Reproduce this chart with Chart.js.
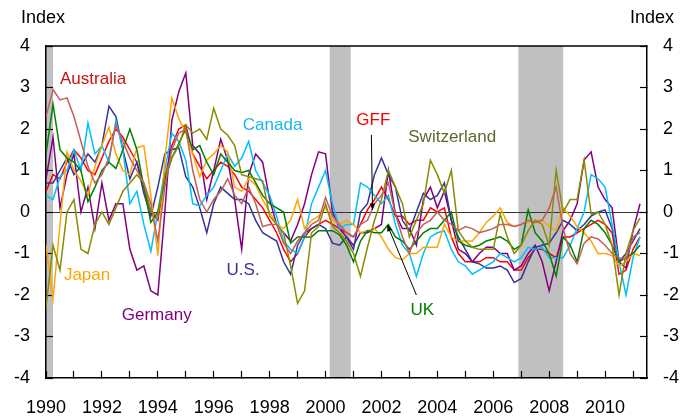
<!DOCTYPE html>
<html>
<head>
<meta charset="utf-8">
<script src="https://cdn.jsdelivr.net/npm/chart.js@4.4.1/dist/chart.umd.min.js"></script>
<style>
  body { margin: 0; background: #fff; }
  #wrap { width: 692px; height: 416px; }
</style>
</head>
<body>
<div id="wrap"><canvas id="chart"></canvas></div>
<script>
// quarterly readings, 1990 Q1 .. 2011 Q2
const quarters = Array.from({ length: 86 }, (_, i) => 1990 + i / 4);

const australia = [
  2.3, 2.95, 2.7, 2.75,  2.3, 1.7, 1.1, 0.7,  0.9, 1.3, 2.1, 1.7,  1.3, 1.0, 0.7, 0.2,
  -0.7, 0.6, 1.5, 1.9,  2.0, 1.0, 0.3, 0.0,  0.3, 0.5, 0.8, 0.4,  0.2, 0.6, 0.2, -0.35,
  -0.3, -0.3, -0.75, -1.0,  -0.7, -0.5, -0.3, -0.2,  0.35, -0.1, -0.3, -0.5,  -0.6, -0.3, -0.2, 0.2,
  0.4, 0.7, -0.05, -0.6,  -1.0, -0.5, -0.3, -0.2,  0.0, -0.2, -0.3, -0.45,  -0.35, -0.4, -0.5, -0.45,
  -0.4, -0.3, -0.3, -0.35,  -0.3, -0.2, -0.25, -0.2,  0.1, 0.6, -0.4, -1.0,  -1.25, -0.75, -0.6, -0.65,
  -0.8, -1.0, -1.1, -1.15,  -0.6, -0.5
];
const canada = [
  0.4, 0.3, 0.85, 1.0,  1.5, 1.0, 2.15, 1.4,  1.6, 1.2, 2.2, 1.5,  0.2, 0.5, -0.3, -0.95,
  0.0, 1.0, 1.9, 1.7,  1.25, 0.2, 0.15, 0.4,  0.6, 1.0, 1.4, 1.1,  1.3, 1.7, 1.0, 0.7,
  0.4, -0.1, -0.7, -0.9,  -1.0, -0.6, 0.2, 0.6,  1.0, 0.2, -0.4, -0.3,  -0.3, 0.7, 0.6, 0.4,
  0.2, 0.4, -0.3, -0.8,  -1.0, -1.55, -1.0, -0.6,  -0.5, -0.45, -0.9, -1.2,  -1.3, -1.5, -1.4, -1.3,
  -1.2, -1.0, -1.1, -1.2,  -1.1, -0.85, -0.9, -0.85,  -1.1, -1.1, -1.1, -0.8,  -0.4, 0.0, 0.9, 0.8,
  0.6, -0.3, -1.2, -2.0,  -1.1, -0.6
];
const gff = [
  0.5, 0.9, 0.8, 1.2,  1.5, 1.3, 1.0, 0.9,  1.3, 1.7, 2.0, 1.8,  1.5, 1.2, 0.6, 0.0,
  -0.2, 0.8, 1.6, 2.0,  2.1, 1.4, 1.1, 0.8,  1.0, 1.2, 1.1, 0.9,  0.6, 0.5, 0.3, 0.1,
  -0.2, -0.5, -0.9, -1.2,  -1.0, -0.6, -0.4, -0.3,  -0.2, -0.3, -0.4, -0.5,  -0.6, -0.3, 0.05, 0.3,
  0.6, 0.3, -0.1, -0.1,  -0.3, -0.2, -0.2, 0.1,  0.0, 0.1, -0.6, -1.0,  -1.2, -1.2, -1.2, -1.1,
  -1.1, -1.2, -1.2, -1.4,  -1.4, -1.1, -0.9, -0.9,  -1.0, -1.1, -0.6, -0.6,  -0.5, -0.4, -0.3, -0.2,
  -0.3, -0.5, -1.5, -1.4,  -0.9, -0.6
];
const switzerland = [
  -2.3, -0.8, -1.4, 0.0,  0.3, -0.9, -1.0, -0.3,  0.0, -0.3, 0.1, 0.5,  0.7, 0.9, 0.7, 0.0,
  -0.1, 0.9, 1.3, 1.6,  2.1, 1.9, 2.0, 1.75,  2.5, 2.0, 1.85, 1.6,  0.9, 0.85, 0.8, 0.75,
  -0.1, -0.3, -0.5, -1.3,  -2.2, -1.9, -0.5, -0.35,  0.2, -0.35, -0.5, -0.7,  -1.0, -1.55, -0.85, -0.2,
  0.3, 1.0, 0.6, 0.2,  -0.6, -0.2, 0.2, 1.25,  0.9, 0.45, 1.0, -0.45,  -0.7, -0.85, -0.9, -0.9,
  -0.9, -0.05, -0.6, -1.0,  -0.8, -0.45, -0.2, -0.3,  -0.8, 1.0, 0.0, 0.3,  0.3, 1.25, -0.05, 0.0,
  -0.3, -0.8, -2.0, -1.0,  -0.45, -0.15
];
const japan = [
  -0.8, -2.1, -0.3, 1.45,  1.0, 0.75, 0.4, 1.1,  1.6, 2.05, 1.4, 1.0,  0.9, 1.55, 1.6, 0.4,
  -1.05, 1.25, 2.75, 2.25,  1.9, 1.4, 0.85, 1.25,  1.4, 1.6, 1.45, 0.6,  0.5, 0.8, 0.65, 0.3,
  0.0, -0.3, -0.4, -0.2,  0.3, -0.4, -0.2, -0.1,  0.1, -0.2, -0.3, -0.2,  -0.3, -0.5, -0.45, -0.4,
  -0.6, -0.9, -1.1, -1.15,  -1.0, -1.0, -0.85, -0.85,  -0.85, -0.3, -0.6, -0.7,  -0.7, -0.7, -0.5, -0.25,
  -0.1, 0.1, -0.25, -0.35,  -0.3, -0.25, -0.2, -0.2,  -0.35, -0.45, 0.1, -0.1,  -0.35, -0.5, -0.7, -1.0,
  -1.0, -1.05, -1.3, -1.2,  -1.0, -1.05
];
const germany = [
  0.8, 1.8, 0.1, 0.9,  1.4, 0.0, 0.6, -0.4,  0.7, -0.2, 0.2, 0.2,  -0.9, -1.4, -1.3, -1.9,
  -2.0, 0.0, 2.2, 2.9,  3.35, 1.6, 1.4, 0.3,  1.0, 1.75, 1.25, 0.3,  -0.9, 0.9, 1.4, 1.2,
  0.3, -0.3, -0.5, -0.7,  -0.3, 0.2, 0.9, 1.45,  1.4, 0.0, -0.4, -0.6,  -0.8, -0.5, -0.5, -0.4,
  -0.3, 1.0, -0.05, -0.4,  -0.4, -0.8, 0.3, 0.6,  0.1, 0.5, -0.2, -0.9,  -1.0, -1.2, -1.0, -0.85,
  -0.85, -1.0, -1.0, -1.4,  -1.3, -1.0, -0.8, -1.2,  -1.9, -1.2, -0.45, -0.2,  0.2, 1.25, 1.45, 0.6,
  0.3, 0.1, -1.2, -1.35,  -0.45, 0.2
];
const us = [
  0.7, 0.7, 1.0, 1.3,  0.9, 1.1, 1.4, 1.2,  1.6, 2.55, 2.3, 1.5,  0.8, 1.2, 0.45, -0.1,
  0.6, 1.4, 1.5, 1.55,  0.85, 0.6, 0.1, -0.5,  0.2, 0.6, 0.45, 0.3,  0.3, 0.2, -0.2, -0.5,
  -0.6, -0.7, -1.2, -1.5,  -0.8, -0.5, -0.4, -0.3,  -0.4, -0.75, -0.8, -0.6,  -0.9, 0.0, 0.2, 0.9,
  1.3, 0.9, 0.6, -0.2,  -0.45, 0.0, 0.45, 0.3,  0.4, 0.7, -0.2, -0.6,  -0.9, -1.2, -1.25, -1.35,
  -1.35, -1.3, -1.4, -1.7,  -1.6, -1.2, -0.85, -0.8,  -0.75, -0.5, -0.2, -0.3,  -0.45, -0.3, -0.1, 0.0,
  0.05, -0.4, -1.2, -1.0,  -0.7, -0.4
];
const uk = [
  1.4, 2.6, 1.5, 1.3,  1.2, 1.0, 0.25, 0.6,  1.0, 1.2, 1.05, 1.5,  2.0, 1.5, 0.6, -0.25,
  0.0, 0.75, 1.3, 1.65,  2.0, 1.5, 1.6, 1.2,  0.9, 1.4, 1.2, 1.0,  0.95, 1.0, 0.7, 0.4,
  0.2, 0.1, 0.0, -0.75,  -0.6, -0.6, -0.6, -0.45,  -0.45, -0.45, -0.55, -0.8,  -1.2, -0.7, -0.45, -0.5,
  -0.5, -0.3, -0.6, -0.7,  -0.9, -0.7, -0.5, -0.4,  -0.4, -0.2, 0.0, -0.7,  -0.8, -0.85, -0.8, -0.7,
  -0.65, -0.6, -0.7, -0.9,  -0.8, 0.05, -0.5, -0.7,  -1.0, -1.55, -0.6, -0.8,  -1.2, -0.4, -0.2, -0.3,
  -0.5, -0.8, -1.2, -1.1,  -1.0, -0.8
];

// shaded recession periods (years)
const recessions = [[1990.0, 1990.25], [2000.15, 2000.9], [2006.9, 2008.5]];

const series = [
  { name: 'Australia', data: australia, line: '#c0605a' },
  { name: 'Switzerland', data: switzerland, line: '#8b8b00' },
  { name: 'UK', data: uk, line: '#008000' },
  { name: 'Japan', data: japan, line: '#ffa500' },
  { name: 'Canada', data: canada, line: '#00bfff' },
  { name: 'U.S.', data: us, line: '#333399' },
  { name: 'Germany', data: germany, line: '#800080' },
  { name: 'GFF', data: gff, line: '#ff0000' }
];

// text labels placed in data units: [text, year, value, colour]
const seriesLabels = [
  ['Australia', 1990.5, 3.2, '#cc1111'],
  ['Canada', 1997.04, 2.1, '#19b5f0'],
  ['GFF', 2001.1, 2.22, '#ff0000'],
  ['Switzerland', 2002.96, 1.8, '#5a6b2a'],
  ['Japan', 1990.64, -1.52, '#ffa500'],
  ['Germany', 1992.71, -2.5, '#800080'],
  ['U.S.', 1996.46, -1.4, '#333399'],
  ['UK', 2003.04, -2.36, '#008000']
];
// arrows: from [year, value] to [year, value]
const arrows = [
  [[2001.64, 1.86], [2001.68, 0.05]],
  [[2003.25, -2.0], [2002.21, -0.31]]
];

const FONT = '"Liberation Sans", Arial, Helvetica, sans-serif';

const decor = {
  id: 'decor',
  beforeDraw(chart) {
    const { ctx, chartArea, scales: { x } } = chart;
    ctx.save();
    ctx.fillStyle = '#c0c0c0';
    recessions.forEach(([a, b]) => {
      const x1 = x.getPixelForValue(a);
      const x2 = x.getPixelForValue(b);
      ctx.fillRect(x1, chartArea.top, x2 - x1, chartArea.bottom - chartArea.top);
    });
    ctx.restore();
  },
  afterDatasetsDraw(chart) {
    const { ctx, chartArea, scales: { x, y } } = chart;
    ctx.save();
    // top frame line
    ctx.strokeStyle = '#000';
    ctx.lineWidth = 1.5;
    ctx.beginPath();
    ctx.moveTo(chartArea.left, chartArea.top);
    ctx.lineTo(chartArea.right, chartArea.top);
    ctx.stroke();

    ctx.font = '18px ' + FONT;
    ctx.fillStyle = '#000';
    ctx.textBaseline = 'alphabetic';
    ctx.textAlign = 'center';
    ctx.fillText('Index', chartArea.left - 3, 23);
    ctx.fillText('Index', chartArea.right + 5, 23);

    ctx.font = '17px ' + FONT;
    ctx.textAlign = 'left';
    ctx.textBaseline = 'middle';
    seriesLabels.forEach(([t, yr, v, c]) => {
      ctx.fillStyle = c;
      ctx.fillText(t, x.getPixelForValue(yr), y.getPixelForValue(v));
    });

    ctx.strokeStyle = '#000';
    ctx.fillStyle = '#000';
    ctx.lineWidth = 1;
    arrows.forEach(([p, q]) => {
      const x1 = x.getPixelForValue(p[0]), y1 = y.getPixelForValue(p[1]);
      const x2 = x.getPixelForValue(q[0]), y2 = y.getPixelForValue(q[1]);
      ctx.beginPath();
      ctx.moveTo(x1, y1);
      ctx.lineTo(x2, y2);
      ctx.stroke();
      const ang = Math.atan2(y2 - y1, x2 - x1);
      ctx.beginPath();
      ctx.moveTo(x2, y2);
      ctx.lineTo(x2 - 7 * Math.cos(ang - 0.4), y2 - 7 * Math.sin(ang - 0.4));
      ctx.lineTo(x2 - 7 * Math.cos(ang + 0.4), y2 - 7 * Math.sin(ang + 0.4));
      ctx.closePath();
      ctx.fill();
    });
    ctx.restore();
  }
};

const tickFont = { family: FONT, size: 18 };

new Chart(document.getElementById('chart'), {
  type: 'line',
  data: {
    datasets: series.map(s => ({
      label: s.name,
      data: s.data.map((v, i) => ({ x: quarters[i], y: v })),
      borderColor: s.line,
      borderWidth: 1.5,
      pointRadius: 0,
      tension: 0,
      fill: false
    }))
  },
  options: {
    responsive: true,
    maintainAspectRatio: false,
    animation: false,
    layout: { padding: { top: 46, left: 0, right: 0, bottom: 0 } },
    plugins: { legend: { display: false }, tooltip: { enabled: false } },
    scales: {
      x: {
        type: 'linear',
        min: 1990,
        max: 2011.5,
        afterFit: s => { s.height = 38; },
        border: { display: true, color: '#000', width: 1.5 },
        grid: { drawOnChartArea: false, tickLength: -7, tickColor: '#000', tickWidth: 1.2 },
        ticks: {
          stepSize: 1,
          includeBounds: false,
          autoSkip: false,
          maxRotation: 0,
          padding: 26,
          color: '#000',
          font: tickFont,
          callback: v => (v % 2 === 0 ? String(v) : '')
        }
      },
      y: {
        position: 'left',
        min: -4,
        max: 4,
        afterFit: s => { s.width = 46; },
        border: { display: true, color: '#000', width: 1.5 },
        grid: {
          color: c => (c.tick && c.tick.value === 0 ? '#333' : 'rgba(0,0,0,0)'),
          lineWidth: 1,
          tickLength: -7,
          tickColor: '#000',
          tickWidth: 1.2
        },
        ticks: { stepSize: 1, padding: 23, color: '#000', font: tickFont }
      },
      y2: {
        position: 'right',
        min: -4,
        max: 4,
        afterFit: s => { s.width = 45; },
        border: { display: true, color: '#000', width: 1.5 },
        grid: { drawOnChartArea: false, tickLength: -7, tickColor: '#000', tickWidth: 1.2 },
        ticks: { stepSize: 1, padding: 23, color: '#000', font: tickFont }
      }
    }
  },
  plugins: [decor]
});
</script>
</body>
</html>
